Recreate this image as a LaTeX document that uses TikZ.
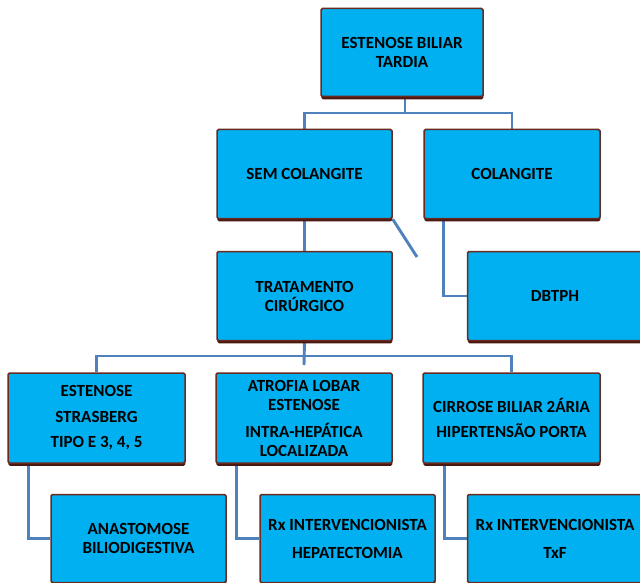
\documentclass[tikz,border=0pt]{standalone}
\usepackage{fontspec}
\setmainfont{Carlito}
\usetikzlibrary{shadows,backgrounds}
\definecolor{boxfill}{HTML}{00B0F0}
\definecolor{boxedge}{HTML}{6A2A20}
\definecolor{boxshade}{HTML}{4A1810}
\definecolor{link}{HTML}{4F81BD}
\begin{document}
\begin{tikzpicture}[x=1pt,y=-1pt,
  box/.style={draw=boxedge, line width=1.5pt, fill=boxfill, rounded corners=1.5pt,
    align=center, inner sep=0pt, font=\fontsize{17}{19}\selectfont\bfseries,
    drop shadow={shadow xshift=0.4pt, shadow yshift=-2.8pt, fill=boxshade, opacity=1}},
  conn/.style={draw=link, line width=2.9pt}]
\useasboundingbox (0,0) rectangle (640,583);
\clip (0,0) rectangle (640,583);
% level 1
\node[box, minimum width=162, minimum height=88] (top) at (402,52.5) {ESTENOSE BILIAR\\TARDIA};
% level 2
\node[box, minimum width=175, minimum height=89] (sem) at (304.5,174) {SEM COLANGITE};
\node[box, minimum width=176, minimum height=89] (col) at (512,174) {COLANGITE};
\node[box, minimum width=175, minimum height=89] (trat) at (304.5,296) {TRATAMENTO\\CIRÚRGICO};
\node[box, minimum width=175, minimum height=89] (dbtph) at (555,296) {DBTPH};
% level 3
\node[box, minimum width=177, minimum height=90] (left3) at (96.5,418) {ESTENOSE\\[6.5pt]STRASBERG\\[6.5pt]TIPO E 3, 4, 5};
\node[box, minimum width=176, minimum height=90] (mid3) at (304,418) {ATROFIA LOBAR\\ESTENOSE\\[8pt]INTRA-HEPÁTICA\\LOCALIZADA};
\node[box, minimum width=177, minimum height=90] (right3) at (511.5,418) {CIRROSE BILIAR 2ÁRIA\\[6pt]HIPERTENSÃO PORTA};
% level 4
\node[box, minimum width=175, minimum height=88] (left4) at (138.5,538.5) {ANASTOMOSE\\BILIODIGESTIVA};
\node[box, minimum width=175, minimum height=88] (mid4) at (347.5,538.5) {Rx INTERVENCIONISTA\\[9pt]HEPATECTOMIA};
\node[box, minimum width=175, minimum height=88] (right4) at (555,538.5) {Rx INTERVENCIONISTA\\[9pt]TxF};
% junctions
\coordinate (bus1) at (405,113);
\coordinate (bus2) at (304,356);
\coordinate (stub3) at (304,365);
\coordinate (diagend) at (417,257);
\begin{scope}[on background layer]
\draw[conn] ([xshift=3pt]top.south) -- ([xshift=3pt]top.south |- bus1);
\draw[conn] (sem.north) |- (bus1) -| (col.north);
\draw[conn] (sem) -- (trat);
\draw[conn] (sem.south east) -- (diagend);
\draw[conn] ([xshift=20pt]col.south west) |- (dbtph.west);
\draw[conn] (trat.south) -- (stub3);
\draw[conn] (left3.north) |- (bus2) -| (right3.north);
\draw[conn] ([xshift=21pt]left3.south west) |- (left4.west);
\draw[conn] ([xshift=21pt]mid3.south west) |- (mid4.west);
\draw[conn] ([xshift=22pt]right3.south west) |- (right4.west);
\end{scope}
\end{tikzpicture}
\end{document}
